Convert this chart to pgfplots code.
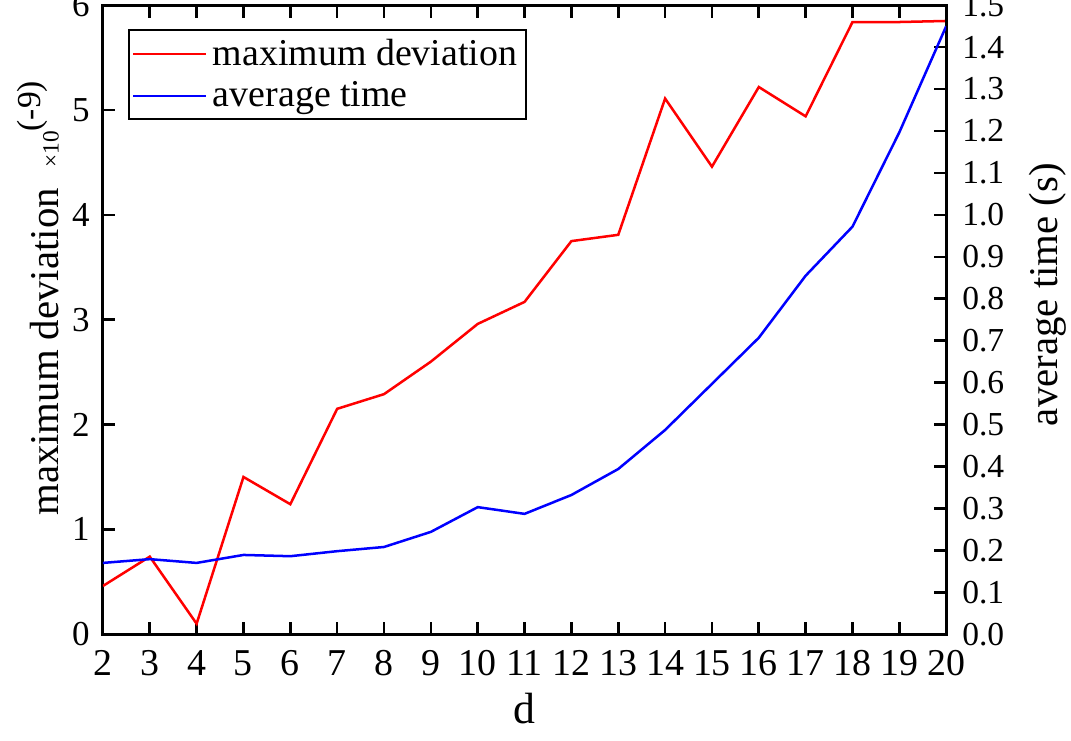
\documentclass[border=0pt]{standalone}
\usepackage{pgfplots}
\usepackage{pgfplotstable}
\pgfplotsset{compat=1.18}
\usepackage{fontspec}
\setmainfont{Liberation Serif}

% maximum deviation (x 10^-9) against d
\pgfplotstableread{
d dev
2 0.46
3 0.74
4 0.10
5 1.50
6 1.24
7 2.15
8 2.29
9 2.60
10 2.96
11 3.17
12 3.75
13 3.81
14 5.11
15 4.46
16 5.22
17 4.94
18 5.84
19 5.84
20 5.85
}\devtable

% average time (s) against d
\pgfplotstableread{
d t
2 0.170
3 0.179
4 0.170
5 0.189
6 0.186
7 0.198
8 0.208
9 0.244
10 0.303
11 0.287
12 0.332
13 0.394
14 0.487
15 0.597
16 0.707
17 0.855
18 0.972
19 1.197
20 1.450
}\timetable

\pgfplotsset{
  twin/.style={
    scale only axis,
    width=289.2pt, height=215.7pt,
    xmin=2, xmax=20,
    axis line style={line width=1pt},
    major tick length=4.3pt,
    every tick/.style={black, line width=0.9pt},
    /pgf/number format/assume math mode=true,
  },
}

\begin{document}
\begin{tikzpicture}
\begin{axis}[
  twin,
  ymin=0, ymax=6,
  tick align=inside,
  xtick={2,3,...,20},
  xticklabels={2,3,4,5,6,7,8,9,10,11,12,13,14,15,16,17,18,19,20},
  ytick={0,1,...,6},
  yticklabels={0,1,2,3,4,5,6},
  xtick pos=both, xticklabel pos=lower,
  ytick pos=left,
  xticklabel style={font=\fontsize{13}{14}\selectfont, yshift=-2pt},
  yticklabel style={font=\fontsize{12}{14}\selectfont, xshift=-1pt},
  xlabel={d},
  ylabel={maximum deviation\ \ {\fontsize{8}{9}\selectfont ×10}\raisebox{0.45em}{\fontsize{11.5}{12}\selectfont(-9)}},
  every axis x label/.style={at={(axis description cs:0.5,-0.118)}, anchor=center,
    font=\fontsize{15}{16}\selectfont},
  every axis y label/.style={at={(axis description cs:-0.077,0.534)}, rotate=90, anchor=center,
    font=\fontsize{14}{16}\selectfont},
]
\addplot[red, line width=0.86pt] table[x=d, y=dev] {\devtable};
\end{axis}

\begin{axis}[
  twin,
  ymin=0, ymax=1.5,
  axis x line=none,
  axis y line*=right,
  ytick align=inside,
  ytick={0,0.1,0.2,0.3,0.4,0.5,0.6,0.7,0.8,0.9,1.0,1.1,1.2,1.3,1.4,1.5},
  yticklabels={0.0,0.1,0.2,0.3,0.4,0.5,0.6,0.7,0.8,0.9,1.0,1.1,1.2,1.3,1.4,1.5},
  yticklabel style={font=\fontsize{11.5}{13}\selectfont, xshift=2pt},
  ylabel={average time (s)},
  every axis y label/.style={at={(axis description cs:1.12,0.54)}, rotate=90, anchor=center,
    font=\fontsize{14}{16}\selectfont},
  legend image code/.code={\draw[#1] (0pt,0pt) -- (25pt,0pt);},
  legend cell align=left,
  legend style={
    at={(rel axis cs:0.0297,0.962)}, anchor=north west,
    draw=black, line width=0.6pt,
    font=\fontsize{13}{15}\selectfont,
    inner xsep=1pt, inner ysep=1pt,
    row sep=0pt,
  },
]
\addlegendimage{red, line width=0.86pt}
\addlegendentry{maximum deviation}
\addplot[blue, line width=0.86pt] table[x=d, y=t] {\timetable};
\addlegendentry{average time}
\end{axis}

\pgfresetboundingbox
\path[use as bounding box] (-35.3pt,-36.4pt) rectangle (332.0pt,217.5pt);
\end{tikzpicture}
\end{document}
